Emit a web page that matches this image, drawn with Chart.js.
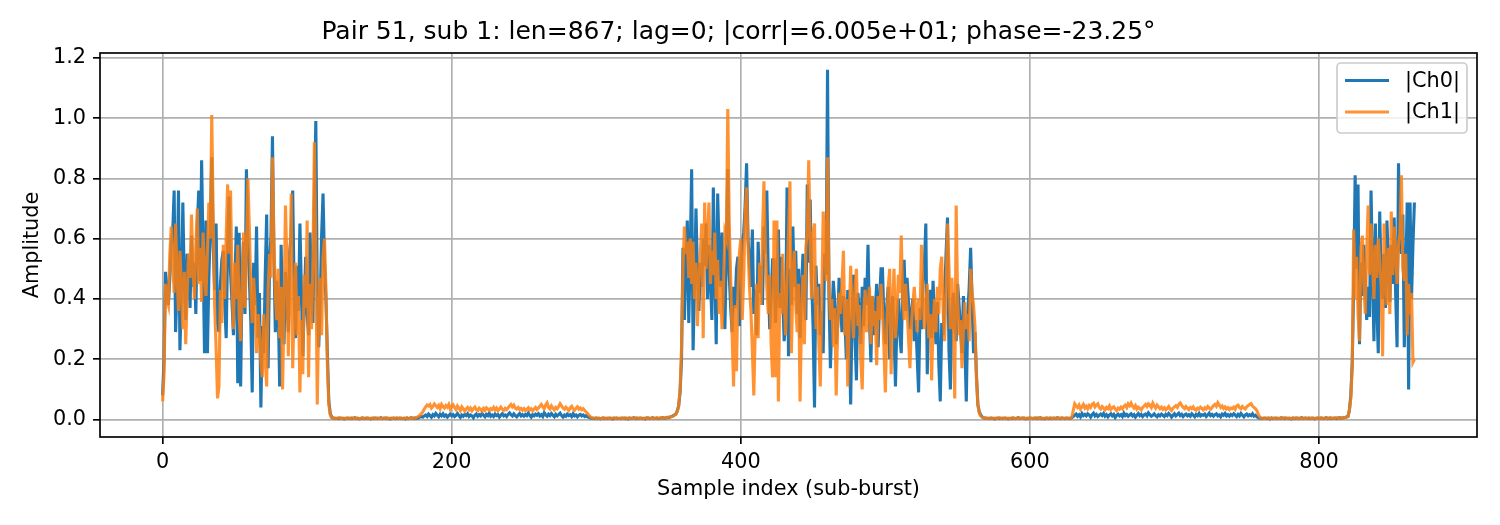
<!DOCTYPE html>
<html><head><meta charset="utf-8">
<script src="https://cdn.jsdelivr.net/npm/chart.js@4/dist/chart.umd.min.js"></script>
<style>html,body{margin:0;padding:0;background:#fff}canvas{display:block}</style>
</head><body>
<canvas id="c" width="1500" height="525"></canvas>
<script>
// |Ch0| amplitude, segment by segment (samples 0..866)
const ch0Burst1 = [
.08,.20,.49,.44,.38,.47,.58,.62,.76,.29,
.45,.76,.23,.41,.72,.46,.33,.55,.50,.37,
.61,.44,.52,.35,.64,.76,.46,.86,.55,.22,
.66,.22,.47,.63,.87,.58,.43,.65,.32,.29,
.45,.53,.56,.38,.27,.58,.74,.49,.39,.28,
.45,.64,.12,.62,.11,.47,.59,.35,.83,.60,
.47,.33,.09,.52,.38,.64,.27,.42,.04,.31,
.22,.48,.68,.17,.52,.61,.94,.55,.29,.46,
.38,.11,.58,.34,.25,.49,.41,.29,.56,.62,
.76,.43,.27,.51,.36,.65,.44,.21,.38,.54,
.35,.28,.62,.47,.32,.71,.99,.42,.24,.38,
.61,.75,.52,.40,.22,.06,.02,.008];
const ch0Quiet1 = [
.005,.004,.003,.004,.003,.005,.004,.003,.002,.004,
.005,.003,.004,.003,.004,.006,.003,.004,.002,.003,
.005,.004,.003,.004,.005,.003,.002,.004,.003,.005,
.004,.003,.004,.006,.003,.004,.005,.003,.004,.002,
.003,.004,.005,.003,.004,.003,.005,.004,.003,.004,
.002,.005,.003,.004,.006,.004,.003,.005,.004,.006,
.008,.01];
const ch0Noise1 = [
.008,.012,.015,.01,.018,.013,.008,.016,.012,.02,
.014,.009,.017,.012,.019,.011,.015,.008,.013,.018,
.012,.016,.01,.014,.02,.013,.007,.015,.011,.017,
.013,.019,.01,.015,.012,.006,.014,.018,.011,.016,
.012,.02,.014,.009,.017,.013,.021,.011,.015,.01,
.018,.013,.016,.008,.014,.019,.012,.015,.01,.017,
.022,.016,.012,.019,.013,.009,.015,.02,.012,.016,
.011,.017,.013,.021,.014,.008,.016,.012,.018,.014,
.019,.012,.016,.01,.022,.015,.011,.018,.013,.02,
.014,.009,.017,.012,.016,.021,.013,.008,.015,.011,
.018,.013,.016,.01,.019,.012,.015,.009,.014,.017,
.012,.015,.01,.013,.009,.007,.005,.004];
const ch0Quiet2 = [
.004,.003,.005,.003,.004,.002,.004,.005,.003,.004,
.003,.005,.004,.002,.003,.004,.005,.003,.004,.003,
.005,.004,.003,.004,.002,.005,.003,.004,.006,.003,
.004,.003,.005,.004,.003,.004,.002,.005,.004,.003,
.004,.006,.003,.004,.005,.003,.004,.005,.006,.004,
.005,.007,.006,.008,.01,.012,.015];
const ch0Burst2 = [
.018,.028,.045,.09,.20,.57,.33,.52,.66,.32,
.55,.83,.23,.45,.70,.48,.36,.52,.44,.60,
.51,.65,.40,.58,.47,.33,.77,.50,.25,.75,
.56,.44,.62,.38,.30,.55,.83,.48,.37,.29,
.44,.37,.50,.54,.31,.46,.58,.62,.71,.85,
.60,.52,.44,.63,.35,.43,.28,.59,.42,.51,
.38,.64,.55,.76,.48,.30,.41,.53,.53,.32,
.45,.63,.37,.54,.41,.26,.32,.77,.21,.50,
.38,.64,.44,.56,.35,.50,.27,.43,.55,.39,
.33,.78,.52,.73,.46,.31,.04,.51,.38,.45,
.28,.36,.22,.55,.48,1.16,.41,.17,.33,.46,
.39,.25,.31,.47,.38,.29,.41,.34,.20,.43,
.29,.05,.35,.48,.27,.13,.42,.36,.25,.44,
.31,.47,.38,.58,.33,.19,.41,.28,.36,.45,
.24,.39,.50,.50,.33,.25,.38,.44,.20,.35,
.41,.29,.11,.33,.40,.28,.22,.45,.53,.36,
.47,.39,.30,.35,.40,.26,.33,.21,.09,.37,
.30,.45,.51,.65,.15,.38,.43,.27,.46,.34,
.25,.39,.18,.06,.32,.28,.41,.55,.67,.23,
.10,.36,.42,.31,.26,.45,.38,.30,.22,.41,
.25,.06,.35,.44,.57,.40,.22,.29,.15,.05,
.025,.015,.009,.006,.005,.004];
const ch0Quiet3 = [
.004,.003,.005,.004,.003,.002,.004,.005,.003,.004,
.003,.004,.005,.003,.002,.004,.003,.005,.004,.003,
.004,.006,.003,.004,.005,.003,.002,.004,.003,.005,
.004,.003,.004,.005,.003,.004,.006,.003,.004,.002,
.004,.005,.003,.004,.003,.005,.004,.003,.006,.004,
.003,.005,.004,.003,.004,.005,.003,.004,.006];
const ch0Noise2 = [
.01,.014,.018,.011,.016,.009,.02,.013,.017,.012,
.019,.015,.008,.016,.021,.012,.017,.01,.014,.018,
.013,.02,.011,.016,.009,.015,.019,.012,.017,.007,
.014,.018,.012,.016,.01,.021,.013,.017,.011,.015,
.019,.012,.016,.008,.014,.02,.013,.017,.01,.015,
.018,.012,.022,.016,.011,.014,.019,.013,.009,.016,
.012,.018,.014,.01,.017,.013,.02,.015,.008,.014,
.019,.012,.016,.021,.013,.017,.01,.015,.018,.012,
.016,.011,.019,.014,.009,.017,.013,.02,.012,.016,
.014,.018,.01,.015,.021,.013,.017,.011,.016,.019,
.012,.015,.009,.018,.014,.02,.012,.016,.011,.017,
.013,.019,.015,.01,.017,.012,.02,.014,.009,.015,
.018,.012,.016,.013,.019,.011,.014,.009,.006,.004];
const ch0Quiet4 = [
.004,.003,.005,.004,.003,.004,.002,.005,.003,.004,
.005,.003,.004,.003,.006,.004,.003,.005,.004,.003,
.004,.002,.005,.003,.004,.005,.003,.004,.006,.003,
.004,.005,.003,.004,.003,.005,.004,.002,.004,.005,
.003,.004,.005,.003,.004,.006,.003,.004,.005,.003,
.004,.005,.003,.004,.006,.004,.005,.006,.007,.008];
const ch0Burst3 = [
.01,.03,.08,.19,.45,.81,.50,.78,.25,.52,
.41,.58,.47,.33,.44,.34,.76,.50,.26,.65,
.38,.22,.69,.46,.40,.55,.37,.66,.51,.39,
.58,.45,.67,.42,.24,.85,.60,.55,.68,.24,
.46,.72,.10,.72,.40,.58,.72];

// |Ch1| amplitude, segment by segment
const ch1Burst1 = [
.06,.15,.45,.40,.38,.55,.64,.52,.42,.65,
.48,.36,.56,.44,.30,.49,.25,.42,.55,.47,
.68,.50,.40,.58,.70,.45,.57,.39,.62,.50,
.41,.55,.72,.60,1.01,.68,.38,.24,.07,.11,
.43,.32,.58,.40,.61,.78,.55,.76,.47,.30,
.52,.40,.58,.34,.26,.45,.62,.37,.56,.80,
.64,.44,.32,.47,.38,.22,.35,.30,.19,.14,
.35,.20,.11,.43,.55,.47,.87,.60,.41,.33,
.50,.27,.44,.10,.36,.71,.52,.21,.47,.75,
.17,.36,.52,.28,.41,.09,.33,.15,.48,.37,
.66,.14,.45,.30,.52,.92,.55,.05,.35,.47,
.28,.54,.60,.43,.18,.05,.015,.006];
const ch1Quiet1 = [
.004,.005,.003,.004,.006,.004,.003,.005,.004,.003,
.004,.005,.003,.006,.004,.003,.004,.005,.003,.004,
.006,.003,.004,.005,.004,.003,.005,.004,.006,.003,
.004,.005,.003,.004,.003,.005,.004,.006,.003,.004,
.005,.003,.004,.004,.006,.003,.005,.004,.003,.005,
.004,.006,.003,.004,.005,.004,.006,.005,.008,.01,
.014,.02];
const ch1Noise1 = [
.025,.035,.042,.048,.045,.05,.038,.044,.052,.046,
.04,.047,.036,.05,.043,.038,.046,.041,.05,.035,
.044,.049,.04,.033,.045,.038,.03,.042,.036,.028,
.035,.04,.032,.038,.029,.036,.041,.033,.03,.038,
.034,.028,.037,.031,.039,.035,.03,.036,.033,.04,
.032,.038,.029,.035,.041,.034,.03,.037,.033,.039,
.045,.05,.042,.048,.038,.035,.04,.033,.037,.031,
.036,.03,.034,.039,.032,.036,.029,.035,.04,.033,
.038,.044,.05,.042,.036,.048,.055,.04,.035,.045,
.038,.032,.04,.036,.043,.052,.045,.038,.034,.041,
.036,.03,.039,.044,.035,.031,.037,.042,.034,.038,
.032,.036,.03,.025,.02,.014,.009,.006];
const ch1Quiet2 = [
.005,.004,.003,.004,.005,.003,.004,.006,.003,.004,
.005,.003,.004,.004,.006,.003,.005,.004,.003,.005,
.004,.003,.006,.004,.005,.003,.004,.005,.003,.004,
.006,.004,.003,.005,.004,.003,.005,.004,.006,.003,
.004,.005,.003,.004,.006,.004,.005,.006,.004,.006,
.005,.007,.008,.007,.01,.011,.014];
const ch1Burst2 = [
.017,.026,.043,.10,.24,.50,.64,.55,.59,.47,
.60,.45,.59,.40,.52,.31,.46,.55,.65,.27,
.72,.50,.61,.72,.45,.56,.48,.62,.40,.53,
.35,.46,.30,.44,.62,.60,1.03,.65,.47,.28,
.11,.38,.16,.42,.55,.60,.33,.47,.68,.77,
.58,.44,.36,.23,.08,.30,.45,.27,.52,.38,
.61,.79,.57,.44,.35,.48,.25,.14,.66,.14,
.66,.06,.42,.35,.55,.40,.28,.47,.62,.79,
.22,.45,.56,.38,.29,.45,.06,.33,.48,.25,
.57,.62,.86,.58,.40,.62,.65,.30,.44,.25,
.11,.38,.69,.58,.46,.87,.46,.33,.40,.24,
.37,.08,.30,.42,.35,.45,.56,.28,.40,.11,
.33,.51,.37,.27,.44,.50,.31,.38,.20,.10,
.35,.43,.29,.38,.44,.25,.41,.31,.36,.18,
.41,.33,.45,.37,.24,.09,.30,.44,.50,.15,
.38,.50,.27,.35,.48,.42,.61,.40,.33,.45,
.37,.27,.17,.31,.38,.44,.36,.29,.40,.33,
.58,.42,.30,.37,.45,.27,.35,.13,.31,.40,
.29,.44,.35,.50,.54,.36,.26,.42,.65,.51,
.30,.47,.35,.07,.71,.40,.28,.33,.17,.29,
.39,.30,.35,.26,.50,.42,.38,.31,.14,.05,
.02,.012,.008,.006,.005,.004];
const ch1Quiet3 = [
.003,.004,.005,.003,.004,.005,.003,.004,.006,.003,
.005,.004,.003,.004,.005,.003,.004,.006,.004,.003,
.005,.004,.003,.005,.004,.006,.003,.004,.005,.003,
.004,.003,.005,.004,.006,.003,.004,.005,.003,.004,
.005,.003,.004,.006,.004,.003,.005,.004,.003,.005,
.004,.006,.003,.004,.005,.003,.004,.005,.008];
const ch1Noise2 = [
.03,.052,.045,.04,.048,.035,.042,.05,.038,.044,
.036,.046,.04,.05,.054,.042,.048,.052,.04,.035,
.043,.038,.032,.04,.036,.045,.033,.039,.042,.035,
.03,.038,.034,.041,.036,.044,.048,.04,.052,.046,
.055,.044,.038,.046,.035,.041,.037,.032,.04,.045,
.05,.043,.052,.047,.04,.054,.045,.038,.048,.042,
.036,.041,.034,.039,.032,.037,.043,.035,.03,.038,
.042,.046,.04,.05,.055,.047,.041,.036,.043,.038,
.033,.04,.036,.042,.034,.031,.038,.035,.041,.037,
.032,.039,.035,.043,.038,.034,.04,.046,.05,.044,
.056,.048,.04,.045,.037,.042,.035,.039,.033,.038,
.036,.041,.034,.045,.048,.04,.036,.043,.038,.035,
.042,.046,.05,.053,.045,.04,.036,.03,.018,.008];
const ch1Quiet4 = [
.005,.004,.003,.005,.004,.006,.003,.004,.005,.003,
.004,.005,.003,.004,.005,.003,.006,.004,.003,.005,
.004,.003,.005,.004,.006,.003,.004,.005,.003,.004,
.005,.003,.004,.006,.004,.003,.005,.004,.003,.005,
.004,.006,.003,.004,.005,.003,.004,.005,.006,.004,
.005,.004,.006,.005,.004,.006,.005,.007,.006,.008];
const ch1Burst3 = [
.01,.03,.07,.18,.63,.40,.54,.35,.26,.57,
.61,.45,.35,.56,.71,.48,.65,.52,.40,.58,
.47,.60,.53,.44,.21,.65,.50,.38,.57,.35,
.69,.48,.64,.55,.45,.58,.62,.81,.50,.46,
.55,.28,.45,.35,.42,.19,.20];

const xTicks = [0, 200, 400, 600, 800];
const yTicks = [0.0, 0.2, 0.4, 0.6, 0.8, 1.0, 1.2];
const seriesLabels = ['|Ch0|', '|Ch1|'];
const titleText = 'Pair 51, sub 1: len=867; lag=0; |corr|=6.005e+01; phase=-23.25°';

const ch0 = [].concat(ch0Burst1, ch0Quiet1, ch0Noise1, ch0Quiet2, ch0Burst2, ch0Quiet3, ch0Noise2, ch0Quiet4, ch0Burst3);
const ch1 = [].concat(ch1Burst1, ch1Quiet1, ch1Noise1, ch1Quiet2, ch1Burst2, ch1Quiet3, ch1Noise2, ch1Quiet4, ch1Burst3);
const toPts = arr => arr.map((v, i) => ({x: i, y: v}));

const BLUE = '#1f77b4';
const ORANGE = 'rgba(255,127,14,0.85)';
const FONT = "'DejaVu Sans', 'Liberation Sans', sans-serif";

const framePlugin = {
  id: 'frameLegend',
  afterDraw(chart) {
    const {ctx, chartArea: a} = chart;
    ctx.save();
    ctx.strokeStyle = '#000';
    ctx.lineWidth = 1.67;
    ctx.strokeRect(a.left, a.top, a.right - a.left, a.bottom - a.top);
    // legend box (upper right, inside axes)
    const bx = a.right - 140, by = a.top + 10, bw = 130, bh = 70, r = 4;
    ctx.beginPath();
    ctx.moveTo(bx + r, by);
    ctx.arcTo(bx + bw, by, bx + bw, by + bh, r);
    ctx.arcTo(bx + bw, by + bh, bx, by + bh, r);
    ctx.arcTo(bx, by + bh, bx, by, r);
    ctx.arcTo(bx, by, bx + bw, by, r);
    ctx.closePath();
    ctx.fillStyle = 'rgba(255,255,255,0.8)';
    ctx.fill();
    ctx.strokeStyle = '#cccccc';
    ctx.lineWidth = 1.67;
    ctx.stroke();
    const colors = [BLUE, ORANGE];
    const rows = [by + 17.5, by + 49];
    ctx.font = '20.8px ' + FONT;
    ctx.textBaseline = 'middle';
    ctx.textAlign = 'left';
    seriesLabels.forEach((lab, k) => {
      ctx.beginPath();
      ctx.strokeStyle = colors[k];
      ctx.lineWidth = 3.1;
      ctx.moveTo(bx + 8, rows[k]);
      ctx.lineTo(bx + 52, rows[k]);
      ctx.stroke();
      ctx.fillStyle = '#000';
      ctx.fillText(lab, bx + 68, rows[k] + 1);
    });
    ctx.restore();
  }
};

new Chart(document.getElementById('c'), {
  type: 'line',
  data: {
    datasets: [
      {label: seriesLabels[0], data: toPts(ch0), borderColor: BLUE, backgroundColor: BLUE,
       borderWidth: 3.1, pointRadius: 0, tension: 0, order: 2},
      {label: seriesLabels[1], data: toPts(ch1), borderColor: ORANGE, backgroundColor: ORANGE,
       borderWidth: 3.1, pointRadius: 0, tension: 0, order: 1}
    ]
  },
  options: {
    responsive: false,
    devicePixelRatio: 1,
    animation: false,
    events: [],
    parsing: true,
    layout: {padding: {left: 0, right: 23, top: 0, bottom: 0}},
    plugins: {
      legend: {display: false},
      tooltip: {enabled: false},
      title: {display: true, text: titleText, color: '#000',
        font: {family: FONT, size: 25, weight: 'normal'}, padding: {top: 17, bottom: 6}}
    },
    scales: {
      x: {
        type: 'linear', min: -43.3, max: 909.3,
        afterFit: s => { s.height = 88; },
        afterBuildTicks: s => { s.ticks = xTicks.map(v => ({value: v})); },
        ticks: {color: '#000', font: {family: FONT, size: 20.8}, padding: 6, maxRotation: 0,
                callback: v => String(v)},
        grid: {color: '#b0b0b0', lineWidth: 1.67, tickColor: '#000', tickLength: 7, tickWidth: 1.67},
        border: {display: false},
        title: {display: true, text: 'Sample index (sub-burst)', color: '#000',
                font: {family: FONT, size: 20.8}, padding: {top: 0, bottom: 23}}
      },
      y: {
        type: 'linear', min: -0.058, max: 1.216,
        afterFit: s => { s.width = 100; },
        afterBuildTicks: s => { s.ticks = yTicks.map(v => ({value: v})); },
        ticks: {color: '#000', font: {family: FONT, size: 20.8}, padding: 7,
                callback: v => Number(v).toFixed(1)},
        grid: {color: '#b0b0b0', lineWidth: 1.67, tickColor: '#000', tickLength: 7, tickWidth: 1.67},
        border: {display: false},
        title: {display: true, text: 'Amplitude', color: '#000',
                font: {family: FONT, size: 20.8}, padding: {top: 20, bottom: 0}}
      }
    }
  },
  plugins: [framePlugin]
});
</script>
</body></html>
